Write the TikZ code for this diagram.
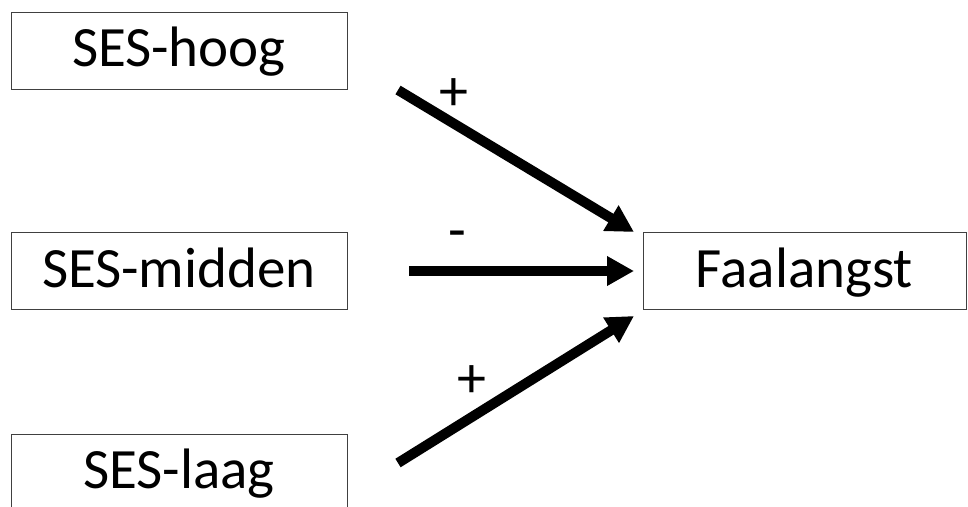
\documentclass[tikz,border=0pt]{standalone}
\usepackage{fontspec}
\setmainfont{Carlito}
\usetikzlibrary{arrows.meta}
\begin{document}
\begin{tikzpicture}[x=1pt,y=-1pt,
  varbox/.style={draw=black!75, line width=1pt, fill=white, inner sep=0pt,
    text height=44pt, text depth=12pt,
    minimum width=336pt, minimum height=77pt, font=\fontsize{57}{57}\selectfont},
  effect/.style={line width=10pt, -{Triangle[length=27pt,width=28pt]}},
  sign/.style={font=\fontsize{58}{58}\selectfont, inner sep=0pt}]
  \useasboundingbox (0,0) rectangle (968,506);

  % variables
  \node[varbox] (hoog)   at (179,50.5)  {SES-hoog};
  \node[varbox] (midden) at (179,271)   {SES-midden};
  \node[varbox] (laag)   at (179,472.5) {SES-laag};
  \node[varbox, minimum width=323pt] (faal) at (804.5,271) {Faalangst};

  % arrow ends
  \coordinate (h0) at (398,90);
  \coordinate (h1) at (634,232);
  \coordinate (m0) at (409,271);
  \coordinate (m1) at (634,271);
  \coordinate (l0) at (398,463);
  \coordinate (l1) at (634,316);

  % effects
  \draw[effect] (h0) -- (h1);
  \draw[effect] (m0) -- (m1);
  \draw[effect] (l0) -- (l1);

  % signs
  \node[sign] (ph) at (454,95)  {+};
  \node[sign] (mm) at (457,240) {-};
  \node[sign] (pl) at (472,382) {+};
\end{tikzpicture}
\end{document}
